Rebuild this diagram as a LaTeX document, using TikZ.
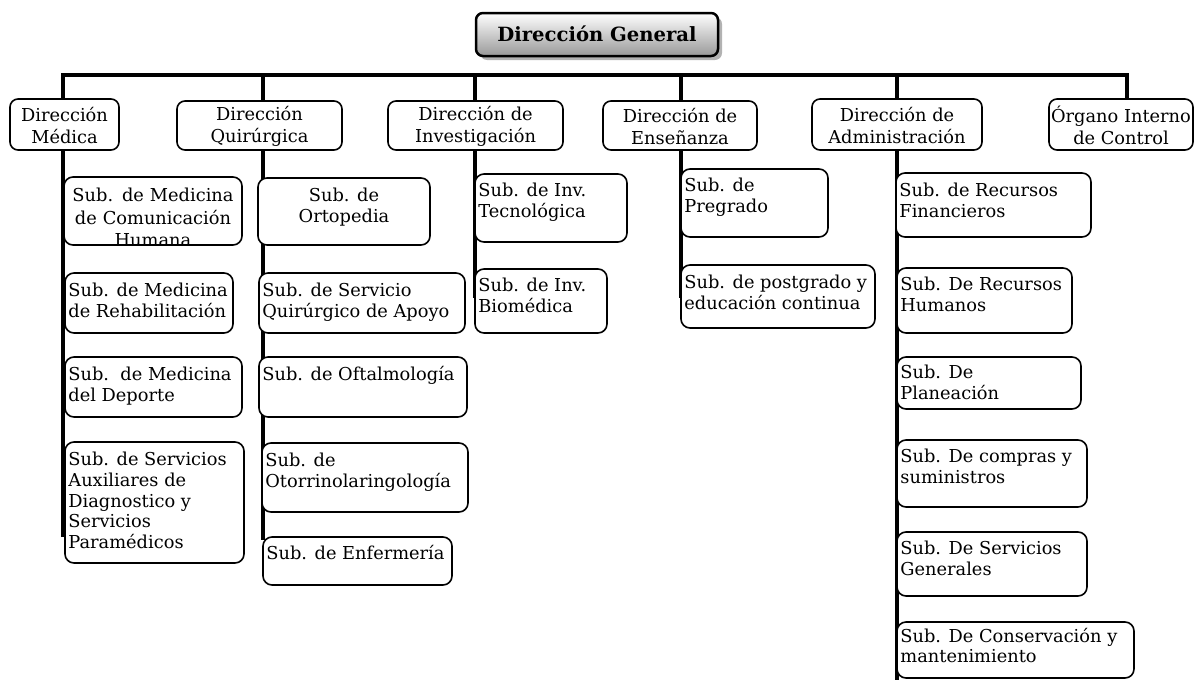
\documentclass[tikz,border=0pt]{standalone}
\usepackage{fontspec}
\setmainfont{DejaVu Serif}
\usetikzlibrary{fit,shadows}
\newcommand\myfont{\fontsize{17.8}{20.8}\selectfont}
\newcommand\mydirfont{\fontsize{17.8}{22}\selectfont}
\newcommand\myclipfont{\fontsize{17.8}{22.5}\selectfont}
\newcommand\mytitlefont{\bfseries\fontsize{19.6}{22}\selectfont}
\tikzset{
  bus/.style={line width=4pt},
  dirbox/.style={draw, line width=1.6pt, rounded corners=8pt, fill=white, inner sep=0pt},
  subbox/.style={draw, line width=1.6pt, rounded corners=9pt, fill=white, inner sep=0pt},
  subtxt/.style={anchor=north west, align=left, inner sep=0pt, font=\myfont},
  ctrtxt/.style={align=center, inner sep=0pt, font=\myfont},
  cliptxt/.style={align=center, inner sep=0pt, font=\myclipfont},
  dirtxt/.style={align=center, inner sep=0pt, font=\mydirfont},
  titlebox/.style={draw, line width=2.5pt, rounded corners=7pt, top color=white, bottom color=black!40, inner sep=0pt,
    drop shadow={shadow xshift=4pt, shadow yshift=-4pt, fill=black!30, opacity=1}},
  titletxt/.style={inner sep=0pt, font=\mytitlefont}
}
\newcommand\subnode[7]{%
  \node[subbox, fit={(#2,#3) (#4,#5)}] (#1) {};
  \node[subtxt] (#1t) at ([shift={(4,#6)}]#1.north west) {#7};
}
\newcommand\dirnode[6]{%
  \node[dirbox, fit={(#2,#3) (#4,#5)}] (#1) {};
  \node[dirtxt] (#1t) at ([yshift=-1pt]#1.center) {#6};
}
\begin{document}
\begin{tikzpicture}[x=1pt,y=-1pt]
\useasboundingbox (0,0) rectangle (1196,680);
% title
\node[titlebox, fit={(476,13) (718,56)}] (dg) {};
\node[titletxt] (dgt) at ([yshift=1pt]dg.center) {Dirección General};
% bus coordinates
\coordinate (b1) at (63,75);
\coordinate (b2) at (263,75);
\coordinate (b3) at (475,75);
\coordinate (b4) at (681,75);
\coordinate (b5) at (897,75);
\coordinate (b6) at (1127,75);
\coordinate (e1) at (63,537);
\coordinate (e2) at (263,540);
\coordinate (e3) at (475,298);
\coordinate (e4) at (681,298);
\coordinate (e5) at (897,680);
\coordinate (e6) at (1127,100);
\draw[bus] (e1) -- (b1) -- (b6) -- (e6);
\draw[bus] (b2) -- (e2);
\draw[bus] (b3) -- (e3);
\draw[bus] (b4) -- (e4);
\draw[bus] (b5) -- (e5);
% directions
\dirnode{dm}{10}{99}{119}{150}{Dirección\\Médica}
\dirnode{dq}{177}{101}{342}{150}{Dirección\\Quirúrgica}
\dirnode{di}{388}{101}{563}{150}{Dirección de\\Investigación}
\dirnode{de}{603}{101}{757}{150}{Dirección de\\Enseñanza}
\dirnode{da}{812}{99}{982}{150}{Dirección de\\Administración}
\dirnode{do}{1049}{99}{1193}{150}{Órgano Interno\\de Control}
% Medica column
\node[subbox, fit={(64,177) (242,245)}, path picture={\node[cliptxt, anchor=north] at ([yshift=-12.5pt]path picture bounding box.north) {Sub. de Medicina\\de Comunicación\\Humana};}] (m1) {};
\subnode{m2}{65}{273}{233}{333}{10.5}{Sub. de Medicina\\de Rehabilitación}
\subnode{m3}{65}{357}{242}{417}{10.5}{Sub.\ \ de Medicina\\del Deporte}
\subnode{m4}{65}{442}{244}{563}{10.5}{Sub. de Servicios\\Auxiliares de\\Diagnostico y\\Servicios\\Paramédicos}
% Quirurgica column
\node[subbox, fit={(258,178) (430,245)}] (q1) {};
\node[ctrtxt, anchor=north] (q1t) at ([yshift=-10.5pt]q1.north) {Sub. de\\Ortopedia};
\subnode{q2}{259}{273}{465}{333}{10.5}{Sub. de Servicio\\Quirúrgico de Apoyo}
\subnode{q3}{259}{357}{467}{417}{10}{Sub. de Oftalmología}
\subnode{q4}{262}{443}{468}{512}{10.5}{Sub. de\\Otorrinolaringología}
\subnode{q5}{263}{537}{452}{585}{9}{Sub. de Enfermería}
% Investigacion column
\subnode{i1}{475}{174}{627}{242}{9.5}{Sub. de Inv.\\Tecnológica}
\subnode{i2}{475}{269}{607}{333}{10}{Sub. de Inv.\\Biomédica}
% Ensenanza column
\subnode{e1b}{681}{169}{828}{237}{9.5}{Sub. de\\Pregrado}
\subnode{e2b}{681}{265}{875}{328}{10.5}{Sub. de postgrado y\\educación continua}
% Administracion column
\subnode{a1}{896}{173}{1091}{237}{10.5}{Sub. de Recursos\\Financieros}
\subnode{a2}{897}{268}{1072}{333}{9.5}{Sub. De Recursos\\Humanos}
\subnode{a3}{897}{357}{1081}{409}{8.5}{Sub. De\\Planeación}
\subnode{a4}{897}{440}{1087}{507}{10}{Sub. De compras y\\suministros}
\subnode{a5}{897}{532}{1087}{596}{9.5}{Sub. De Servicios\\Generales}
\subnode{a6}{897}{622}{1134}{678}{6.5}{Sub. De Conservación y\\mantenimiento}
\end{tikzpicture}
\end{document}
